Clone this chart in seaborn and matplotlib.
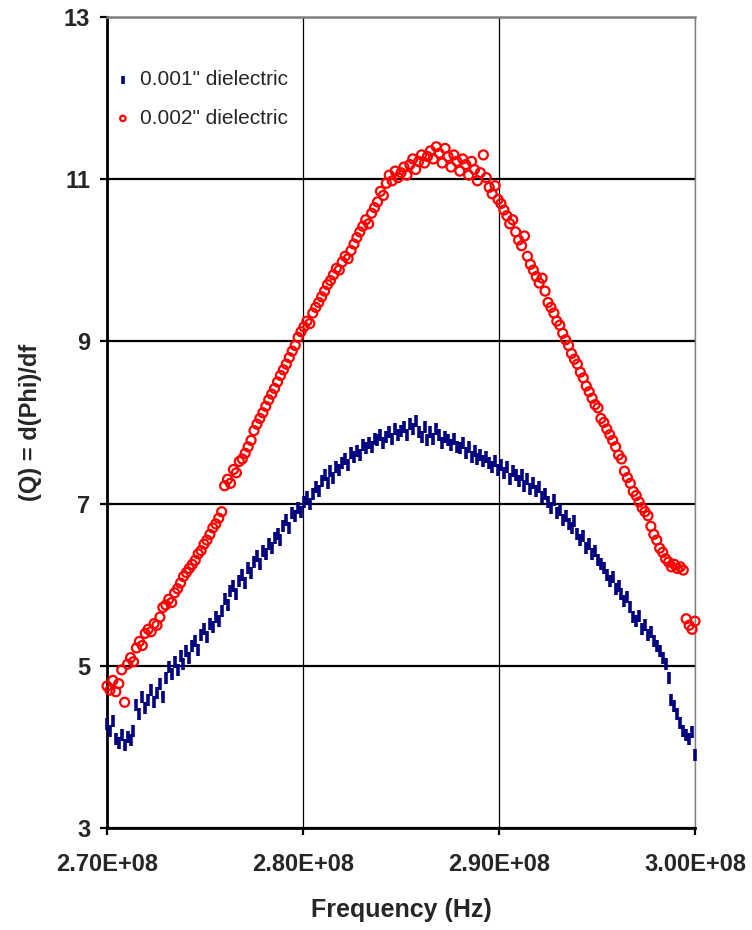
import matplotlib
matplotlib.use('Agg')
import matplotlib.pyplot as plt
from matplotlib.ticker import FuncFormatter
import numpy as np
import seaborn as sns

# frequency sampling of the sweep (Hz)
freq_start = 2.70e8
freq_step = 1.5e5

# Q = d(Phi)/df, 0.001" dielectric
q_001 = [
    4.28, 4.20, 4.32, 4.10, 4.05, 4.15, 4.02, 4.12, 4.08, 4.20,
    4.52, 4.40, 4.62, 4.48, 4.58, 4.70, 4.55, 4.66, 4.78, 4.62,
    4.85, 4.98, 4.90, 5.05, 4.95, 5.12, 5.02, 5.18, 5.10, 5.25,
    5.30, 5.20, 5.38, 5.45, 5.35, 5.52, 5.48, 5.60, 5.55, 5.68,
    5.82, 5.75, 5.92, 5.98, 5.88, 6.05, 6.12, 6.02, 6.20, 6.15,
    6.28, 6.35, 6.25, 6.42, 6.38, 6.50, 6.45, 6.58, 6.62, 6.55,
    6.72, 6.80, 6.70, 6.88, 6.85, 6.95, 6.90, 7.02, 7.08, 7.00,
    7.12, 7.20, 7.15, 7.28, 7.35, 7.25, 7.40, 7.32, 7.45, 7.42,
    7.50, 7.55, 7.48, 7.62, 7.58, 7.65, 7.60, 7.72, 7.68, 7.75,
    7.70, 7.80, 7.78, 7.85, 7.75, 7.82, 7.88, 7.80, 7.92, 7.85,
    7.90, 7.95, 7.85, 7.98, 7.92, 8.02, 7.88, 7.82, 7.95, 7.78,
    7.88, 7.80, 7.92, 7.85, 7.75, 7.82, 7.78, 7.72, 7.80, 7.70,
    7.68, 7.75, 7.62, 7.70, 7.58, 7.65, 7.55, 7.60, 7.52, 7.58,
    7.50, 7.45, 7.52, 7.42, 7.48, 7.38, 7.45, 7.30, 7.40, 7.35,
    7.28, 7.35, 7.22, 7.30, 7.18, 7.25, 7.15, 7.20, 7.08, 7.12,
    7.02, 6.95, 7.05, 6.88, 6.92, 6.80, 6.85, 6.75, 6.70, 6.78,
    6.62, 6.55, 6.60, 6.45, 6.50, 6.38, 6.42, 6.30, 6.25, 6.20,
    6.12, 6.05, 6.10, 5.95, 5.98, 5.88, 5.80, 5.85, 5.72, 5.60,
    5.55, 5.62, 5.45, 5.50, 5.38, 5.42, 5.30, 5.25, 5.18, 5.10,
    5.02, 4.85, 4.58, 4.50, 4.40, 4.30, 4.20, 4.15, 4.10, 4.18,
    3.90,
]

# Q = d(Phi)/df, 0.002" dielectric
q_002 = [
    4.75, 4.70, 4.82, 4.68, 4.78, 4.95, 4.55, 5.02, 5.10, 5.05,
    5.22, 5.30, 5.25, 5.40, 5.45, 5.42, 5.52, 5.50, 5.60, 5.72,
    5.75, 5.82, 5.78, 5.90, 5.95, 6.02, 6.10, 6.15, 6.20, 6.25,
    6.30, 6.38, 6.42, 6.50, 6.55, 6.62, 6.70, 6.75, 6.82, 6.90,
    7.22, 7.30, 7.25, 7.42, 7.38, 7.52, 7.55, 7.62, 7.70, 7.78,
    7.90, 7.98, 8.05, 8.12, 8.20, 8.28, 8.35, 8.42, 8.50, 8.58,
    8.65, 8.72, 8.80, 8.88, 8.95, 9.05, 9.12, 9.18, 9.25, 9.22,
    9.35, 9.42, 9.48, 9.55, 9.62, 9.70, 9.75, 9.82, 9.90, 9.88,
    9.98, 10.05, 10.02, 10.12, 10.20, 10.28, 10.35, 10.42, 10.50, 10.45,
    10.58, 10.65, 10.72, 10.85, 10.80, 10.95, 11.05, 10.98, 11.10, 11.02,
    11.08, 11.15, 11.05, 11.18, 11.25, 11.12, 11.22, 11.30, 11.20, 11.28,
    11.35, 11.25, 11.40, 11.32, 11.20, 11.38, 11.28, 11.15, 11.30, 11.22,
    11.10, 11.25, 11.18, 11.05, 11.22, 11.12, 10.98, 11.08, 11.30, 11.02,
    10.90, 10.82, 10.92, 10.75, 10.70, 10.62, 10.55, 10.45, 10.50, 10.35,
    10.25, 10.18, 10.30, 10.05, 9.95, 9.88, 9.80, 9.72, 9.78, 9.62,
    9.48, 9.42, 9.35, 9.25, 9.20, 9.10, 9.02, 8.95, 8.85, 8.78,
    8.72, 8.62, 8.55, 8.45, 8.38, 8.30, 8.22, 8.18, 8.05, 8.00,
    7.92, 7.85, 7.78, 7.70, 7.60, 7.55, 7.40, 7.32, 7.25, 7.15,
    7.10, 7.02, 6.95, 6.90, 6.85, 6.72, 6.62, 6.55, 6.45, 6.40,
    6.32, 6.28, 6.22, 6.25, 6.20, 6.22, 6.18, 5.58, 5.50, 5.45,
    5.55,
]

x_ticks = [2.70e8, 2.80e8, 2.90e8, 3.00e8]
y_ticks = [3, 5, 7, 9, 11, 13]

freq_001 = freq_start + freq_step * np.arange(len(q_001))
freq_002 = freq_start + freq_step * np.arange(len(q_002))

sns.set_style('white')
plt.rcParams['font.family'] = ['Liberation Sans', 'DejaVu Sans']

fig = plt.figure(figsize=(7.52, 9.30), dpi=100, facecolor='white')
ax = fig.add_axes([0.1423, 0.1097, 0.7819, 0.8720])

sns.scatterplot(x=freq_001, y=q_001, ax=ax, marker='|', s=80, color='#000080',
                linewidth=2.6, label='0.001" dielectric', clip_on=False, zorder=3)
sns.scatterplot(x=freq_002, y=q_002, ax=ax, marker='o', s=42, facecolor='none',
                edgecolor='#FF0000', linewidth=1.6, label='0.002" dielectric',
                clip_on=False, zorder=4)

ax.set_xlim(2.70e8, 3.00e8)
ax.set_ylim(3, 13)
ax.set_xticks(x_ticks)
ax.set_yticks(y_ticks)
ax.xaxis.set_major_formatter(FuncFormatter(lambda v, p: '{:.2E}'.format(v)))

ax.yaxis.grid(True, color='black', linewidth=1.6)
ax.xaxis.grid(True, color='black', linewidth=0.9)

for side in ['left', 'bottom']:
    ax.spines[side].set_color('black')
    ax.spines[side].set_linewidth(2.0)
for side in ['top', 'right']:
    ax.spines[side].set_color('#808080')
ax.spines['top'].set_linewidth(1.8)
ax.spines['right'].set_linewidth(1.0)

ax.tick_params(axis='both', direction='out', length=5, width=1.6, color='black',
               left=True, bottom=True)
ax.tick_params(axis='y', pad=7, labelsize=17)
ax.tick_params(axis='x', pad=13, labelsize=17)
for lab in ax.get_xticklabels() + ax.get_yticklabels():
    lab.set_fontweight('bold')

ax.set_xlabel('Frequency (Hz)', fontsize=18, fontweight='bold', labelpad=16)
ax.set_ylabel('(Q) = d(Phi)/df', fontsize=17, fontweight='bold', labelpad=16)

ax.legend(loc='upper left', bbox_to_anchor=(-0.012, 0.95), frameon=False,
          fontsize=15, handlelength=1.0, handletextpad=0.3, labelspacing=0.95,
          markerscale=0.6, borderpad=0.3, borderaxespad=0.3)

plt.savefig('out.png', dpi=100)
